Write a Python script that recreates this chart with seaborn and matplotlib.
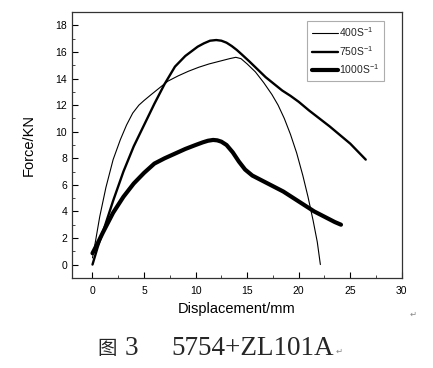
import matplotlib
matplotlib.use("Agg")
import matplotlib.pyplot as plt
import seaborn as sns
import pandas as pd
from matplotlib.ticker import MultipleLocator

x_400 = [0, 0.3, 0.7, 1.3, 2.0, 2.7, 3.3, 3.9, 4.5, 5.0, 5.7, 6.5, 7.3, 8.3, 9.3, 10.3, 11.3,
         12.3, 13.3, 13.9, 14.4, 15.0, 15.8, 16.6, 17.4, 18.0, 18.6, 19.2, 19.8, 20.4, 20.9,
         21.4, 21.8, 22.1]
y_400 = [0.5, 1.8, 3.6, 5.8, 7.9, 9.4, 10.5, 11.4, 12.0, 12.35, 12.8, 13.3, 13.8, 14.2, 14.55,
         14.85, 15.1, 15.3, 15.5, 15.6, 15.5, 15.1, 14.5, 13.7, 12.8, 12.0, 11.0, 9.8, 8.4, 6.7,
         5.1, 3.3, 1.7, 0.0]

x_750 = [0, 0.5, 1.2, 2.0, 3.0, 4.0, 5.0, 6.0, 7.0, 8.0, 9.0, 9.6, 10.2, 10.8, 11.4, 12.0,
         12.5, 13.0, 13.5, 14.0, 14.5, 15.2, 16.0, 16.8, 17.6, 18.4, 19.2, 20.0, 21.0, 22.0,
         23.0, 24.0, 25.0, 26.5]
y_750 = [0, 1.3, 2.9, 4.8, 7.0, 8.9, 10.5, 12.1, 13.6, 14.9, 15.7, 16.05, 16.4, 16.65, 16.85,
         16.9, 16.85, 16.7, 16.45, 16.15, 15.8, 15.3, 14.7, 14.1, 13.6, 13.1, 12.7, 12.25, 11.6,
         11.0, 10.4, 9.75, 9.1, 7.9]

x_1000 = [0, 0.5, 1.0, 2.0, 3.0, 4.0, 5.0, 6.0, 7.0, 8.0, 9.0, 10.0, 10.7, 11.2, 11.7, 12.1,
          12.5, 13.0, 13.6, 14.2, 14.8, 15.5, 16.5, 17.5, 18.5, 19.5, 20.5, 21.5, 22.5, 23.5,
          24.1]
y_1000 = [0.85, 1.6, 2.4, 3.9, 5.1, 6.1, 6.9, 7.6, 8.0, 8.35, 8.7, 9.0, 9.2, 9.32, 9.38, 9.35,
          9.25, 9.0, 8.45, 7.75, 7.15, 6.7, 6.3, 5.9, 5.5, 5.0, 4.5, 4.0, 3.6, 3.2, 3.0]

labels = ['400S$^{-1}$', '750S$^{-1}$', '1000S$^{-1}$']
x_ticks = [0, 5, 10, 15, 20, 25, 30]
y_ticks = [0, 2, 4, 6, 8, 10, 12, 14, 16, 18]

sns.set_theme(style="white")
plt.rcParams['font.family'] = ['Liberation Sans', 'DejaVu Sans']
plt.rcParams['mathtext.fontset'] = 'custom'
plt.rcParams['mathtext.rm'] = 'Liberation Sans'
plt.rcParams['mathtext.it'] = 'Liberation Sans'
plt.rcParams['mathtext.default'] = 'regular'

frames = []
for lab, xs, ys in zip(labels, [x_400, x_750, x_1000], [y_400, y_750, y_1000]):
    frames.append(pd.DataFrame({'x': xs, 'y': ys, 'series': lab, 'order': range(len(xs))}))
df = pd.concat(frames, ignore_index=True)

fig = plt.figure(figsize=(4.33, 3.68), dpi=100)
ax = fig.add_axes([0.166, 0.245, 0.762, 0.722])

widths = [0.8, 1.7, 3.0]
for lab, lw in zip(labels, widths):
    sub = df[df['series'] == lab]
    sns.lineplot(data=sub, x='x', y='y', sort=False, estimator=None, color='black',
                 linewidth=lw, ax=ax, label=lab, solid_capstyle='round', solid_joinstyle='round')

ax.set_xlim(-2, 30)
ax.set_ylim(-1, 19)
ax.set_xticks(x_ticks)
ax.set_yticks(y_ticks)
ax.xaxis.set_minor_locator(MultipleLocator(2.5))
ax.yaxis.set_minor_locator(MultipleLocator(1))
ax.tick_params(axis='both', which='major', direction='in', length=4, width=0.8,
               labelsize=7.5, colors='black', bottom=True, left=True, top=False, right=False)
ax.tick_params(axis='both', which='minor', direction='in', length=2, width=0.6,
               bottom=True, left=True, top=False, right=False)
ax.tick_params(axis='x', pad=6)
for s in ax.spines.values():
    s.set_color('#333333')
    s.set_linewidth(0.9)

ax.set_xlabel('Displacement/mm', fontsize=10.5, labelpad=4, color='black')
ax.set_ylabel('Force/KN', fontsize=10.5, labelpad=14, color='black')

leg = ax.legend(loc='upper right', bbox_to_anchor=(0.945, 0.968), fontsize=7.5,
                frameon=True, fancybox=False, handlelength=2.5, handletextpad=0.1,
                labelspacing=0.45, borderpad=0.45, borderaxespad=0)
leg.get_frame().set_edgecolor('#999999')
leg.get_frame().set_linewidth(0.8)

fig.text(0.954, 0.147, '\u21b5', fontsize=6, color='#888888', ha='center', va='center',
         family=['DejaVu Sans'])
fig.text(0.226, 0.054, '图', fontsize=14, ha='left', va='center',
         family=['Noto Sans CJK SC', 'DejaVu Sans'], fontweight='light')
fig.text(0.288, 0.054, '3', fontsize=19.5, ha='left', va='center',
         family=['Liberation Serif', 'DejaVu Serif'])
fig.text(0.396, 0.054, '5754+ZL101A', fontsize=19.5, ha='left', va='center',
         family=['Liberation Serif', 'DejaVu Serif'])
fig.text(0.783, 0.045, '\u21b5', fontsize=6, color='#888888', ha='center', va='center',
         family=['DejaVu Sans'])

fig.savefig('out.png', dpi=100)
